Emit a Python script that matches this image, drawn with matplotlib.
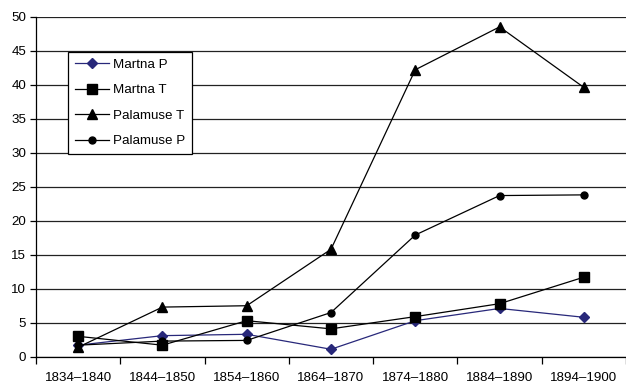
import numpy as np
import matplotlib
matplotlib.use("Agg")
import matplotlib.pyplot as plt

plt.rcParams['font.family'] = ['Liberation Sans', 'DejaVu Sans']

periods = ["1834–1840", "1844–1850", "1854–1860", "1864–1870",
           "1874–1880", "1884–1890", "1894–1900"]

martna_p = [1.7, 3.1, 3.3, 1.1, 5.3, 7.1, 5.8]
martna_t = [3.0, 1.7, 5.3, 4.1, 5.9, 7.8, 11.7]
palamuse_t = [1.4, 7.3, 7.5, 15.8, 42.2, 48.5, 39.6]
palamuse_p = [1.7, 2.3, 2.4, 6.5, 17.9, 23.7, 23.8]

fig = plt.figure(figsize=(6.26, 3.84), dpi=100)
ax = fig.add_axes([0.0575, 0.071, 0.9425, 0.8855])

x = np.arange(len(periods))

ax.plot(x, martna_p, color='#28287a', lw=0.9, marker='D', ms=5.5, label='Martna P', zorder=3)
ax.plot(x, martna_t, color='black', lw=0.9, marker='s', ms=6.5, label='Martna T', zorder=3)
ax.plot(x, palamuse_t, color='black', lw=0.9, marker='^', ms=7.5, label='Palamuse T', zorder=3)
ax.plot(x, palamuse_p, color='black', lw=0.9, marker='o', ms=5, label='Palamuse P', zorder=3)

ax.set_ylim(0, 50)
ax.set_xlim(-0.5, 6.44)
ax.set_yticks(np.arange(0, 51, 5))
ax.yaxis.grid(True, color='#222222', lw=0.9)
ax.set_axisbelow(True)

# boundary ticks as major, labels on minor ticks at the centres
ax.set_xticks(np.arange(-0.5, 7, 1))
ax.set_xticklabels([])
ax.set_xticks(x, minor=True)
ax.set_xticklabels(periods, minor=True)
ax.tick_params(axis='x', which='major', direction='out', length=5, width=0.9)
ax.tick_params(axis='x', which='minor', length=0, pad=11, labelsize=9.6)
ax.tick_params(axis='y', direction='out', length=4, width=0.9, labelsize=9.6, pad=3)

for s in ['top', 'right']:
    ax.spines[s].set_visible(False)
ax.spines['left'].set_linewidth(0.9)
ax.spines['bottom'].set_linewidth(0.9)

leg = ax.legend(loc='upper left', bbox_to_anchor=(0.1086, 0.8646),
                bbox_transform=fig.transFigure, fancybox=False, framealpha=1,
                edgecolor='black', fontsize=9.6, labelspacing=0.98,
                handlelength=2.6, handletextpad=0.3, borderpad=0.5,
                borderaxespad=0)
leg.get_frame().set_linewidth(0.9)

fig.savefig('out.png', dpi=100)
